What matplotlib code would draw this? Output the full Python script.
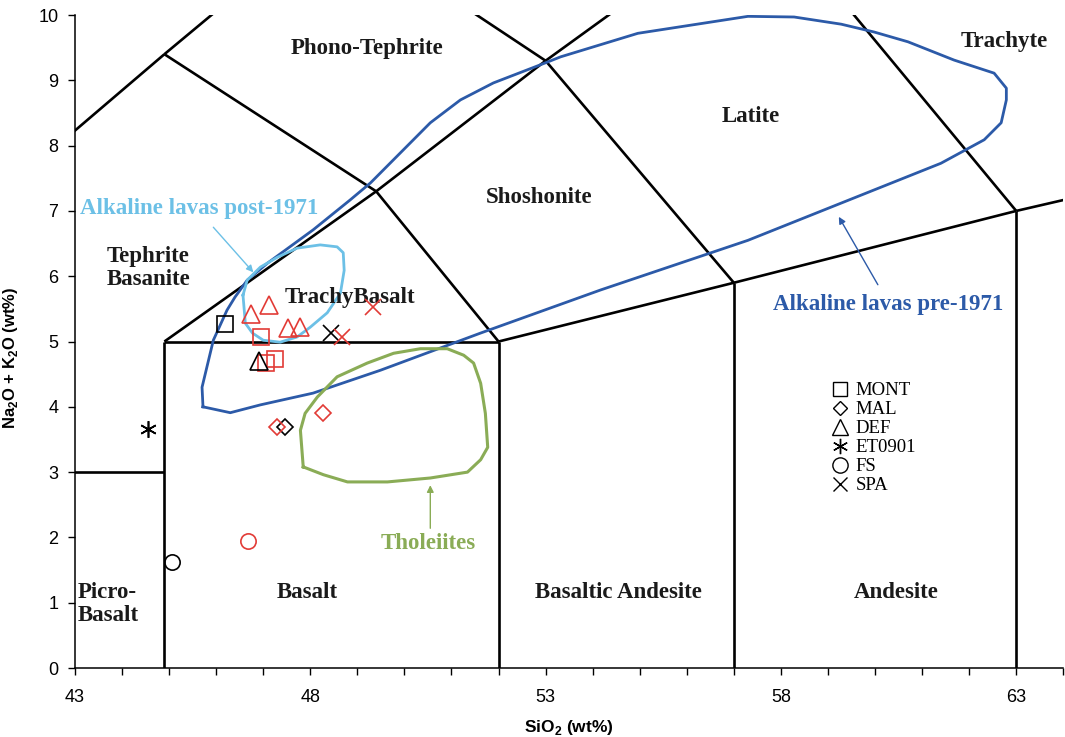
import matplotlib.pyplot as plt
from matplotlib.lines import Line2D

plt.rcParams['mathtext.fontset'] = 'custom'
plt.rcParams['mathtext.bf'] = 'Liberation Sans:bold'
plt.rcParams['mathtext.rm'] = 'Liberation Sans'

SERIF = 'Liberation Serif'
SANS = ['Liberation Sans Narrow', 'Liberation Sans']

# TAS field boundaries, clipped by the axes
boundaries = [
    [(41, 7), (44.9, 9.4)],
    [(44.9, 9.4), (48.4, 11.5)],
    [(44.9, 9.4), (49.4, 7.3)],
    [(41, 3), (44.9, 3)],
    [(44.9, 0), (44.9, 5)],
    [(44.9, 5), (49.4, 7.3)],
    [(49.4, 7.3), (52, 5)],
    [(44.9, 5), (52, 5)],
    [(52, 0), (52, 5)],
    [(49.4, 7.3), (53, 9.3)],
    [(53, 9.3), (48.4, 11.5)],
    [(53, 9.3), (57.6, 11.7)],
    [(53, 9.3), (57, 5.9)],
    [(52, 5), (57, 5.9)],
    [(57, 0), (57, 5.9)],
    [(57, 5.9), (63, 7)],
    [(63, 0), (63, 7)],
    [(63, 7), (57.6, 11.7)],
    [(63, 7), (69, 8)],
]

# field names: (text, x, y, ha)
field_names = [
    ('Phono-Tephrite', 49.2, 9.49, 'center'),
    ('Trachyte', 62.74, 9.59, 'center'),
    ('Latite', 57.36, 8.44, 'center'),
    ('Shoshonite', 52.87, 7.21, 'center'),
    ('Tephrite\nBasanite', 43.68, 6.13, 'left'),
    ('TrachyBasalt', 48.85, 5.68, 'center'),
    ('Picro-\nBasalt', 43.05, 0.98, 'left'),
    ('Basalt', 47.94, 1.16, 'center'),
    ('Basaltic Andesite', 54.55, 1.16, 'center'),
    ('Andesite', 60.45, 1.16, 'center'),
]

# envelopes of earlier Etna products
pre1971_x = [45.72, 46.30, 46.94, 48.06, 49.49, 51.62, 54.17, 57.30, 59.28, 61.40,
             62.32, 62.68, 62.79, 62.79, 62.53, 61.68, 60.70, 59.98, 59.28, 58.28,
             57.30, 54.96, 53.32, 53.04, 51.89, 51.19, 50.55, 49.28, 48.85, 48.06,
             47.09, 46.66, 46.40, 46.23, 45.94, 45.70, 45.72]
pre1971_y = [4.00, 3.91, 4.03, 4.21, 4.56, 5.13, 5.79, 6.55, 7.12, 7.73,
             8.09, 8.35, 8.70, 8.88, 9.11, 9.31, 9.59, 9.74, 9.86, 9.97,
             9.98, 9.72, 9.36, 9.28, 8.96, 8.70, 8.35, 7.43, 7.17, 6.71,
             6.20, 5.94, 5.68, 5.48, 5.02, 4.30, 4.00]

post1971_x = [46.57, 46.62, 46.77, 47.00, 47.36, 47.72, 48.00, 48.36, 48.64, 48.72,
              48.70, 48.57, 48.21, 47.72, 47.30, 46.94, 46.66, 46.57]
post1971_y = [5.71, 5.28, 5.13, 5.02, 4.99, 5.07, 5.22, 5.44, 5.74, 6.09,
              6.36, 6.45, 6.48, 6.43, 6.29, 6.14, 5.94, 5.71]

thol_x = [47.85, 47.79, 47.89, 48.15, 48.57, 49.21, 49.77, 50.34, 50.91, 51.26,
          51.47, 51.62, 51.72, 51.77, 51.62, 51.34, 50.55, 49.64, 48.79, 48.28, 47.85]
thol_y = [3.08, 3.64, 3.90, 4.15, 4.46, 4.67, 4.82, 4.89, 4.89, 4.79,
          4.67, 4.36, 3.90, 3.38, 3.19, 3.00, 2.91, 2.85, 2.85, 2.96, 3.08]

# samples: black = early, red = later analyses
mont_black_x, mont_black_y = [46.19], [5.27]
mont_red_x, mont_red_y = [46.96, 47.06, 47.26], [5.07, 4.67, 4.73]
mal_black_x, mal_black_y = [47.47], [3.69]
mal_red_x, mal_red_y = [47.30, 48.28], [3.69, 3.90]
def_black_x, def_black_y = [46.91], [4.70]
def_red_x, def_red_y = [47.13, 46.74, 47.53, 47.79], [5.56, 5.42, 5.21, 5.22]
et_x, et_y = [44.55], [3.66]
fs_black_x, fs_black_y = [45.06], [1.62]
fs_red_x, fs_red_y = [46.68], [1.94]
spa_black_x, spa_black_y = [48.45], [5.13]
spa_red_x, spa_red_y = [48.68, 49.34], [5.07, 5.53]

RED = '#e23b36'
DARKBLUE = '#2c5aa8'
LIGHTBLUE = '#6cc0e6'
GREEN = '#8aac56'
ASTERISK = (6, 2, 0)
LABEL_SIZE = 16.5

fig = plt.figure(figsize=(10.65, 7.37), dpi=100)
ax = fig.add_axes([0.0704, 0.0936, 0.928, 0.886])

for seg in boundaries:
    xs, ys = zip(*seg)
    ax.plot(xs, ys, color='black', lw=1.9, solid_capstyle='butt', zorder=2)

ax.plot(pre1971_x, pre1971_y, color=DARKBLUE, lw=2.0, zorder=3)
ax.plot(post1971_x, post1971_y, color=LIGHTBLUE, lw=2.0, zorder=3)
ax.plot(thol_x, thol_y, color=GREEN, lw=2.2, zorder=3)

for text, x, y, ha in field_names:
    ax.text(x, y, text, ha=ha, va='center', family=SERIF, fontweight='bold',
            fontsize=LABEL_SIZE, color='#1a1a1a', linespacing=1.1, zorder=4)

ax.text(45.64, 7.03, 'Alkaline lavas post-1971', family=SERIF, fontweight='bold',
        fontsize=LABEL_SIZE, color=LIGHTBLUE, ha='center', va='center')
ax.annotate('', xy=(46.79, 6.06), xytext=(45.94, 6.75),
            arrowprops=dict(arrowstyle='-|>', color=LIGHTBLUE, lw=1.0,
                            mutation_scale=10, shrinkA=0, shrinkB=0))
ax.text(60.28, 5.56, 'Alkaline lavas pre-1971', family=SERIF, fontweight='bold',
        fontsize=LABEL_SIZE, color=DARKBLUE, ha='center', va='center')
ax.annotate('', xy=(59.23, 6.91), xytext=(60.06, 5.87),
            arrowprops=dict(arrowstyle='-|>', color=DARKBLUE, lw=1.0,
                            mutation_scale=10, shrinkA=0, shrinkB=0))
ax.text(50.51, 1.91, 'Tholeiites', family=SERIF, fontweight='bold',
        fontsize=LABEL_SIZE, color=GREEN, ha='center', va='center')
ax.annotate('', xy=(50.55, 2.80), xytext=(50.55, 2.14),
            arrowprops=dict(arrowstyle='-|>', color=GREEN, lw=1.0,
                            mutation_scale=10, shrinkA=0, shrinkB=0))

mk = dict(ls='none', mfc='none', mew=1.2, zorder=5)
ax.plot(mont_black_x, mont_black_y, marker='s', ms=11.5, mec='black', **mk)
ax.plot(mont_red_x, mont_red_y, marker='s', ms=11.5, mec=RED, **mk)
ax.plot(mal_black_x, mal_black_y, marker='D', ms=8, mec='black', **mk)
ax.plot(mal_red_x, mal_red_y, marker='D', ms=8, mec=RED, **mk)
ax.plot(def_black_x, def_black_y, marker='^', ms=12.5, mec='black', **mk)
ax.plot(def_red_x, def_red_y, marker='^', ms=12.5, mec=RED, **mk)
ax.plot(et_x, et_y, marker=ASTERISK, ms=12, mec='black', **mk)
ax.plot(fs_black_x, fs_black_y, marker='o', ms=11, mec='black', **mk)
ax.plot(fs_red_x, fs_red_y, marker='o', ms=11, mec=RED, **mk)
ax.plot(spa_black_x, spa_black_y, marker='x', ms=11, mec='black', **mk)
ax.plot(spa_red_x, spa_red_y, marker='x', ms=11, mec=RED, **mk)

handles = [Line2D([], [], ls='none', marker=m, ms=s, mfc='none', mec='black', mew=1.0, label=l)
           for m, s, l in [('s', 10, 'MONT'), ('D', 7, 'MAL'), ('^', 11, 'DEF'),
                           (ASTERISK, 11, 'ET0901'), ('o', 11, 'FS'), ('x', 10, 'SPA')]]
ax.legend(handles=handles, loc='upper left', bbox_to_anchor=(0.753, 0.452), frameon=False,
          prop={'family': SERIF, 'size': 13.5}, labelspacing=0.1, handletextpad=0.25,
          handlelength=1.2, borderpad=0)

ax.set_xlim(43, 64)
ax.set_ylim(0, 10)
ax.spines['top'].set_visible(False)
ax.spines['right'].set_visible(False)
ax.spines['left'].set_linewidth(1.1)
ax.spines['bottom'].set_linewidth(1.1)
ax.set_xticks([43, 48, 53, 58, 63])
ax.set_xticks(range(43, 65), minor=True)
ax.set_yticks(range(0, 11))
ax.tick_params(axis='both', which='both', direction='out', width=1.0, length=5, colors='black')
ax.tick_params(axis='x', which='major', pad=10)
ax.tick_params(axis='y', which='major', pad=7)
for lab in ax.get_xticklabels() + ax.get_yticklabels():
    lab.set_family(SANS)
    lab.set_fontsize(13)

ax.set_xlabel(r'SiO$_\mathbf{2}$ (wt%)', family='Liberation Sans', fontweight='bold',
              fontsize=12.5)
ax.set_ylabel(r'Na$_\mathbf{2}$O + K$_\mathbf{2}$O (wt%)', family='Liberation Sans',
              fontweight='bold', fontsize=12)
ax.xaxis.set_label_coords(0.5, -0.077)
ax.yaxis.set_label_coords(-0.056, 0.475)

fig.savefig('out.png', dpi=100)
